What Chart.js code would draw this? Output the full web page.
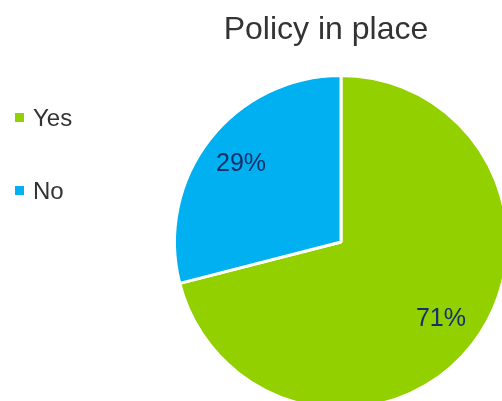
<!DOCTYPE html>
<html>
<head>
<meta charset="utf-8">
<title>Policy in place</title>
<script src="https://cdn.jsdelivr.net/npm/chart.js@4"></script>
<style>
  html, body { margin: 0; padding: 0; background: #ffffff; overflow: hidden; width: 502px; height: 401px; }
  #wrap { position: absolute; left: 0; top: 0; width: 512px; height: 414px; }
</style>
</head>
<body>
<div id="wrap"><canvas id="chart" width="512" height="414"></canvas></div>
<script>
// Survey answers
const categories = ['Yes', 'No'];
const shares = [71, 29];            // percent of respondents
const sliceColors = ['#92D000', '#00B0F0'];
const chartTitle = 'Policy in place';

const FONT = '"Liberation Sans", Arial, Helvetica, sans-serif';

// Percent labels inside each slice
const sliceLabels = {
  id: 'sliceLabels',
  afterDatasetsDraw(chart) {
    const ctx = chart.ctx;
    const meta = chart.getDatasetMeta(0);
    const values = chart.data.datasets[0].data;
    ctx.save();
    ctx.font = '25px ' + FONT;
    ctx.fillStyle = '#13306A';
    ctx.textAlign = 'center';
    ctx.textBaseline = 'middle';
    meta.data.forEach((arc, i) => {
      const p = arc.getProps(['x', 'y', 'startAngle', 'endAngle', 'outerRadius'], true);
      const mid = (p.startAngle + p.endAngle) / 2;
      const d = p.outerRadius * 0.76;
      ctx.fillText(values[i] + '%', p.x + Math.cos(mid) * d, p.y + Math.sin(mid) * d);
    });
    ctx.restore();
  }
};

// Title and left-hand legend
const sideText = {
  id: 'sideText',
  afterDraw(chart) {
    const ctx = chart.ctx;
    ctx.save();
    ctx.fillStyle = '#333333';
    ctx.font = '32px ' + FONT;
    ctx.textAlign = 'center';
    ctx.textBaseline = 'alphabetic';
    ctx.fillText(chartTitle, 326, 39);

    ctx.font = '24px ' + FONT;
    ctx.textAlign = 'left';
    ctx.textBaseline = 'middle';
    const colors = chart.data.datasets[0].backgroundColor;
    chart.data.labels.forEach((label, i) => {
      const y = 118 + i * 73;
      ctx.fillStyle = colors[i];
      ctx.fillRect(15, y - 5, 9, 9);
      ctx.fillStyle = '#333333';
      ctx.fillText(label, 33, y + 1);
    });
    ctx.restore();
  }
};

new Chart(document.getElementById('chart'), {
  type: 'pie',
  data: {
    labels: categories,
    datasets: [{
      data: shares,
      backgroundColor: sliceColors,
      borderColor: '#ffffff',
      borderWidth: 3
    }]
  },
  options: {
    responsive: false,
    animation: false,
    layout: { padding: { left: 173, top: 74, right: 3, bottom: 4 } },
    plugins: {
      legend: { display: false },
      title: { display: false },
      tooltip: { enabled: false }
    }
  },
  plugins: [sliceLabels, sideText]
});
</script>
</body>
</html>
